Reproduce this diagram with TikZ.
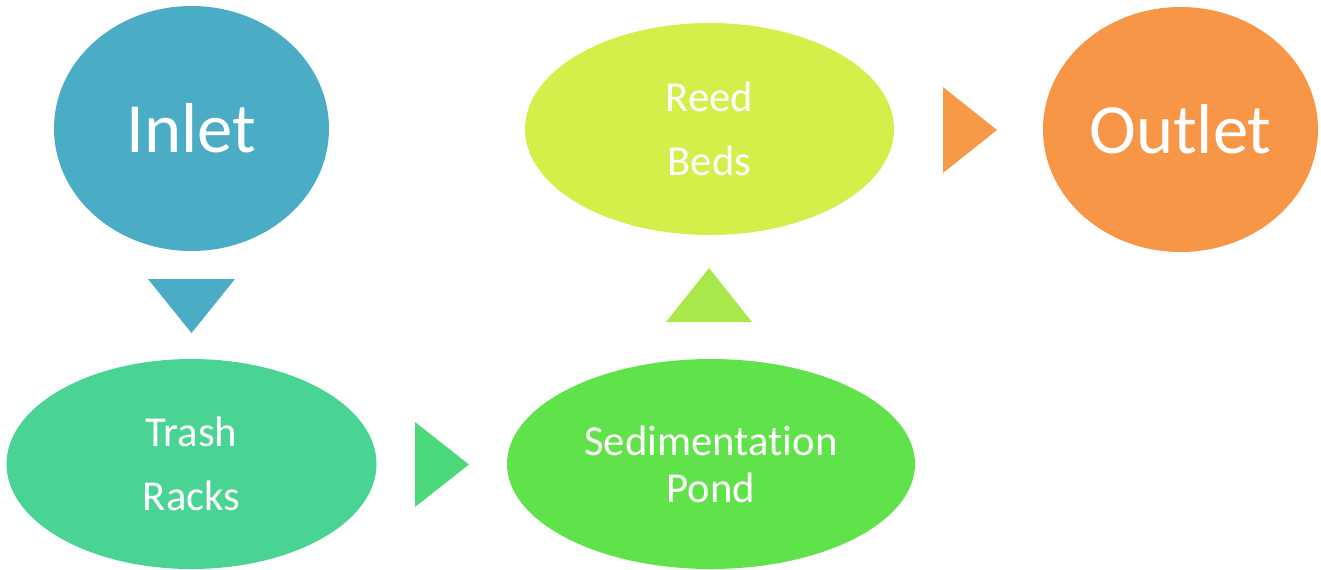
\documentclass[tikz,border=0pt]{standalone}
\usepackage{fontspec}
\setmainfont{Carlito}[Ligatures={NoCommon,NoContextual}, RawFeature={-clig}]
\usetikzlibrary{shapes.geometric}
\definecolor{inletblue}{HTML}{4BACC6}
\definecolor{trashgreen}{HTML}{4AD493}
\definecolor{arrowgreen}{HTML}{4BD97A}
\definecolor{pondgreen}{HTML}{60E24A}
\definecolor{arrowlime}{HTML}{A9E84B}
\definecolor{reedlime}{HTML}{D4EE4A}
\definecolor{arroworange}{HTML}{F79A48}
\definecolor{outletorange}{HTML}{F79646}
\tikzset{
  blob/.style={ellipse, inner sep=0pt, text=white, align=center,
    font=\fontsize{32}{48}\selectfont},
  bigblob/.style={blob, font=\fontsize{53}{60}\selectfont}
}
\begin{document}
\begin{tikzpicture}[x=0.75pt, y=-0.75pt]
\useasboundingbox (0,0) rectangle (1321,569);
\node[bigblob, fill=inletblue, minimum width=206.25pt, minimum height=183.75pt] (inlet) at (191.5,128.5){Inlet};
\node[blob, fill=trashgreen, minimum width=277.5pt, minimum height=157.5pt] (trash) at (191.5,464){Trash\\Racks};
\node[blob, fill=pondgreen, minimum width=306pt, minimum height=157.5pt, font=\fontsize{32}{35}\selectfont] (pond) at (711,464){Sedimentat\kern0pt ion\\Pond};
\node[blob, fill=reedlime, minimum width=276.75pt, minimum height=159pt] (reed) at (709.5,129){Reed\\Beds};
\node[bigblob, fill=outletorange, minimum width=206.25pt, minimum height=183.75pt] (outlet) at (1180.5,129.5){Outlet};
% flow arrows
\fill[inletblue] (148,279) -- (235,279) -- (191.5,333) -- cycle;
\fill[arrowgreen] (415,422) -- (415,507) -- (469,464.5) -- cycle;
\fill[arrowlime] (666,322) -- (752,322) -- (709,268) -- cycle;
\fill[arroworange] (943,87) -- (943,173) -- (997,130) -- cycle;
\end{tikzpicture}
\end{document}
